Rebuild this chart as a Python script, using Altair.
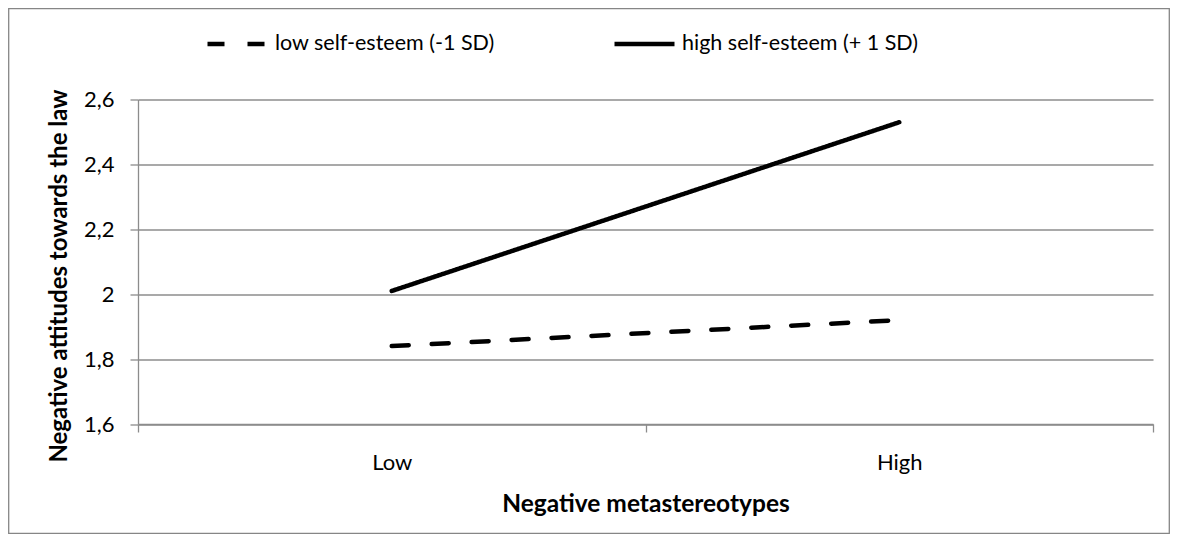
import altair as alt
import pandas as pd

# ---- data ----
categories = ["Low", "High"]
cat_pos = [0.5, 1.5]
series_names = ["low self-esteem (-1 SD)", "high self-esteem (+ 1 SD)"]
low_self_esteem = [1.84, 1.92]
high_self_esteem = [2.01, 2.53]
y_ticks = [1.6, 1.8, 2.0, 2.2, 2.4, 2.6]
x_ticks = [0, 0.5, 1, 1.5, 2]

rows = []
for name, vals in zip(series_names, [low_self_esteem, high_self_esteem]):
    for c, p, v in zip(categories, cat_pos, vals):
        rows.append({"series": name, "category": c, "pos": p, "value": v})
df = pd.DataFrame(rows)

FONT = "Lato"
GRID = "#8c8c8c"

label_expr = " : ".join(
    f"datum.value == {p} ? '{c}'" for p, c in zip(cat_pos, categories)
) + " : ''"

PW, PH = 1015, 324.5
PAD_L, PAD_T, PAD_R, PAD_B = 130, 91.5, 17, 110

lines = alt.Chart(df).mark_line(
    color="black", strokeWidth=4.5, strokeCap="round", strokeJoin="round"
).encode(
    x=alt.X(
        "pos:Q",
        scale=alt.Scale(domain=[0, 2], nice=False, zero=False),
        axis=alt.Axis(
            values=x_ticks,
            labelExpr=label_expr,
            title="Negative metastereotypes",
            grid=False,
            domainColor=GRID,
            domainWidth=1.3,
            tickColor=GRID,
            tickWidth=1.3,
            tickSize=8,
            tickOpacity={"condition": {"test": "datum.value % 1 != 0", "value": 0}, "value": 1},
            labelPadding=20,
            labelFont=FONT,
            labelFontSize=22,
            labelColor="black",
            titleFont=FONT,
            titleFontSize=24.5,
            titleFontWeight="bold",
            titleColor="black",
            titleY=80,
            titleBaseline="middle",
        ),
    ),
    y=alt.Y(
        "value:Q",
        scale=alt.Scale(domain=[1.6, 2.6], nice=False, zero=False),
        axis=alt.Axis(
            values=y_ticks,
            labelExpr="replace(toString(datum.value), '.', ',')",
            title="Negative attitudes towards the law",
            grid=True,
            gridColor=GRID,
            gridWidth=1.3,
            domainColor=GRID,
            domainWidth=1.3,
            tickColor=GRID,
            tickWidth=1.3,
            tickSize=8,
            labelPadding=16,
            labelFont=FONT,
            labelFontSize=22,
            labelColor="black",
            titleFont=FONT,
            titleFontSize=24,
            titleFontWeight="bold",
            titleColor="black",
            titleX=-79,
            titleY=176,
            titleAngle=-90,
            titleAlign="center",
            titleBaseline="middle",
        ),
    ),
    strokeDash=alt.StrokeDash(
        "series:N",
        scale=alt.Scale(domain=series_names, range=[[17, 23], [1, 0]]),
        legend=alt.Legend(
            title=None,
            orient="none",
            legendX=67,
            legendY=-88,
            direction="horizontal",
            symbolType="stroke",
            symbolSize=3600,
            symbolStrokeWidth=4.5,
            symbolStrokeColor="black",
            labelFont=FONT,
            labelFontSize=21.5,
            labelColor="black",
            labelOffset=5,
            labelLimit=400,
            columnPadding=110,
            padding=0,
        ),
    ),
)

border = alt.Chart(alt.Data(values=[{"k": 1}])).mark_rect(
    filled=False, stroke="#868686", strokeWidth=1.3
).encode(
    x=alt.value(-PAD_L + 0.7),
    x2=alt.value(PW + PAD_R - 0.7),
    y=alt.value(-PAD_T + 0.7),
    y2=alt.value(PH + PAD_B - 0.7),
)

chart = alt.layer(lines, border).properties(
    width=PW,
    height=PH,
    autosize=alt.AutoSizeParams(type="none"),
    padding={"left": PAD_L, "top": PAD_T, "right": PAD_R, "bottom": PAD_B},
    background="white",
).configure_view(stroke=None)

chart.save("out.html", embed_options={"renderer": "svg", "actions": False})
